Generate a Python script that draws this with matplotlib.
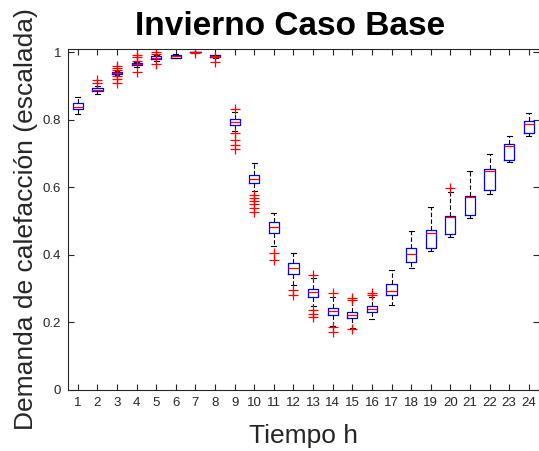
import matplotlib
matplotlib.use("Agg")
import matplotlib.pyplot as plt

plt.rcParams['font.family'] = ['Liberation Sans', 'DejaVu Sans']

# --- Datos: estadisticos por hora (demanda escalada) ---
horas = list(range(1, 25))
q1 = [0.831, 0.885, 0.935, 0.962, 0.981, 0.984, 1.000, 0.985,
      0.784, 0.613, 0.464, 0.343, 0.276, 0.222, 0.212, 0.232,
      0.281, 0.378, 0.421, 0.462, 0.518, 0.592, 0.682, 0.762]
mediana = [0.839, 0.889, 0.938, 0.966, 0.984, 0.988, 1.000, 0.988,
           0.793, 0.626, 0.483, 0.362, 0.289, 0.234, 0.221, 0.240,
           0.293, 0.404, 0.465, 0.511, 0.572, 0.649, 0.723, 0.789]
q3 = [0.849, 0.894, 0.942, 0.969, 0.988, 0.991, 1.000, 0.991,
      0.802, 0.638, 0.498, 0.376, 0.299, 0.244, 0.232, 0.249,
      0.313, 0.421, 0.475, 0.515, 0.575, 0.656, 0.730, 0.797]
bigote_inf = [0.819, 0.878, 0.932, 0.958, 0.976, 0.982, 1.000, 0.984,
              0.767, 0.590, 0.426, 0.311, 0.249, 0.190, 0.184, 0.210,
              0.251, 0.362, 0.412, 0.454, 0.510, 0.582, 0.675, 0.751]
bigote_sup = [0.868, 0.900, 0.945, 0.972, 0.992, 0.994, 1.000, 0.993,
              0.823, 0.671, 0.525, 0.406, 0.332, 0.276, 0.266, 0.276,
              0.355, 0.470, 0.542, 0.585, 0.649, 0.698, 0.752, 0.820]
atipicos = [
    [],
    [0.910, 0.917],
    [0.959, 0.953, 0.947, 0.930, 0.920, 0.910],
    [0.993, 0.985, 0.976, 0.942],
    [1.000, 0.996, 0.967],
    [],
    [0.998],
    [0.985, 0.973],
    [0.833, 0.760, 0.740, 0.725, 0.715],
    [0.577, 0.568, 0.560, 0.550, 0.540, 0.528],
    [0.405, 0.385],
    [0.295, 0.280],
    [0.340, 0.237, 0.225, 0.217],
    [0.286, 0.186, 0.172],
    [0.272, 0.268, 0.180],
    [0.288, 0.281],
    [],
    [],
    [],
    [0.597],
    [],
    [],
    [],
    [],
]

stats = []
for i, h in enumerate(horas):
    stats.append({
        'label': str(h),
        'q1': q1[i], 'med': mediana[i], 'q3': q3[i],
        'whislo': bigote_inf[i], 'whishi': bigote_sup[i],
        'fliers': atipicos[i],
    })

fig = plt.figure(figsize=(5.39, 4.51), dpi=100)
ax = fig.add_axes([0.1262, 0.1353, 0.873, 0.756])

# cajas azules, mediana roja, bigotes negros discontinuos, atipicos '+'
ax.bxp(stats, positions=horas, widths=0.52, capwidths=0.25,
       boxprops=dict(color='blue', linewidth=0.9),
       medianprops=dict(color='red', linewidth=0.9),
       whiskerprops=dict(color='black', linewidth=0.8, linestyle=(0, (4, 2))),
       capprops=dict(color='black', linewidth=0.8),
       flierprops=dict(marker='+', markeredgecolor='red', markersize=7,
                       markeredgewidth=0.9))

ax.set_xlim(0.5, 24.5)
ax.set_ylim(0, 1.01)
ax.set_yticks([0, 0.2, 0.4, 0.6, 0.8, 1])
ax.set_yticklabels(['0', '0.2', '0.4', '0.6', '0.8', '1'])
ax.set_xticks(horas)
ax.set_xticklabels([str(h) for h in horas])

ax.tick_params(direction='in', top=True, right=True, length=4, width=0.8,
               labelsize=9.5, colors='0.15', pad=5)
for s in ax.spines.values():
    s.set_color('0.15')
    s.set_linewidth(0.8)

ax.set_ylabel('Demanda de calefacción (escalada)', fontsize=19, color='0.15')
ax.yaxis.set_label_coords(-0.064, 0.5)
ax.set_xlabel('Tiempo h', fontsize=19, color='0.15')
ax.xaxis.set_label_coords(0.5, -0.1)

ax.text(0.472, 1 + 14 / 341, 'Invierno Caso Base', transform=ax.transAxes,
        ha='center', va='baseline', fontsize=24, fontweight='bold')

fig.savefig('out.png', dpi=100)
